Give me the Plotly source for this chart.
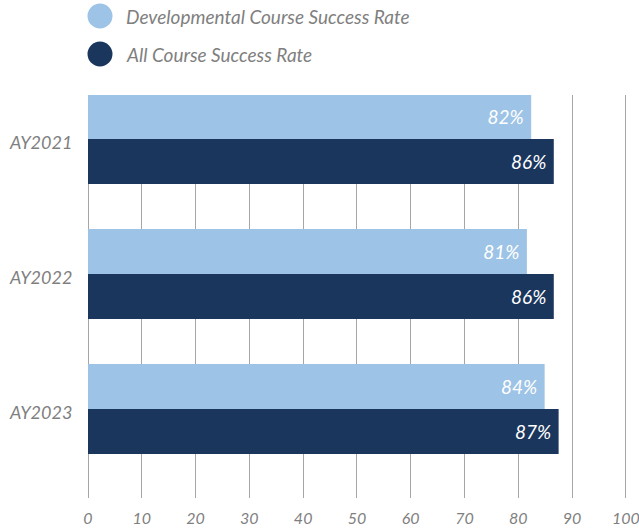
import plotly.graph_objects as go

years = ["AY2021", "AY2022", "AY2023"]
dev_rate = [82.4, 81.6, 84.9]
all_rate = [86.6, 86.6, 87.5]
dev_labels = ["82%", "81%", "84%"]
all_labels = ["86%", "86%", "87%"]
x_ticks = [0, 10, 20, 30, 40, 50, 60, 70, 80, 90, 100]
series_names = ["Developmental Course Success Rate", "All Course Success Rate"]

LIGHT = "#9dc3e6"
DARK = "#1b365d"
GRAY = "#7f7f7f"
FONT = "Lato"
NBSP = "\u00a0"

fig = go.Figure()
fig.add_trace(go.Bar(
    y=years, x=dev_rate, orientation="h", name=series_names[0],
    marker=dict(color=LIGHT, line=dict(width=0)),
    text=[t + NBSP for t in dev_labels], textposition="inside", insidetextanchor="end",
    textfont=dict(color="white", size=19, family=FONT, style="italic"),
    showlegend=False, hoverinfo="x+y",
))
fig.add_trace(go.Bar(
    y=years, x=all_rate, orientation="h", name=series_names[1],
    marker=dict(color=DARK, line=dict(width=0)),
    text=[t + NBSP for t in all_labels], textposition="inside", insidetextanchor="end",
    textfont=dict(color="white", size=19, family=FONT, style="italic"),
    showlegend=False, hoverinfo="x+y",
))

L, R, T, B = 88, 11, 95, 31
W, H = 639, 529
pw = W - L - R
ph = H - T - B

def px_x(x):
    return (x - L) / pw

def px_y(y):
    return (H - B - y) / ph

shapes = []
annotations = []
for i, (name, col) in enumerate(zip(series_names, [LIGHT, DARK])):
    cy = [16, 54][i]
    shapes.append(dict(
        type="circle", xref="paper", yref="paper",
        xsizemode="pixel", ysizemode="pixel",
        xanchor=px_x(100), yanchor=px_y(cy),
        x0=-12.5, x1=12.5, y0=-12.5, y1=12.5,
        fillcolor=col, line=dict(width=0),
    ))
    annotations.append(dict(
        text=name, xref="paper", yref="paper",
        x=px_x(124), y=px_y(cy), xanchor="left", yanchor="middle",
        showarrow=False,
        font=dict(size=19, color=GRAY, family=FONT, style="italic"),
    ))

fig.update_layout(
    width=W, height=H,
    margin=dict(l=L, r=R, t=T, b=B, autoexpand=False),
    paper_bgcolor="white", plot_bgcolor="white",
    barmode="group", bargap=1/3, bargroupgap=0,
    showlegend=False,
    shapes=shapes, annotations=annotations,
    uniformtext=dict(mode=False),
)
fig.update_xaxes(
    range=[0, 100.4], tickvals=x_ticks, ticktext=[str(v) for v in x_ticks],
    showgrid=True, gridcolor="#a6a6a6", gridwidth=1,
    zeroline=True, zerolinecolor="#a6a6a6", zerolinewidth=1,
    showline=False, ticks="outside", ticklen=6, tickcolor="rgba(0,0,0,0)",
    ticklabeloverflow="allow",
    tickfont=dict(size=16, color=GRAY, family=FONT, style="italic"),
    automargin=False, fixedrange=True,
)
fig.update_yaxes(
    type="category", categoryorder="array", categoryarray=years,
    range=[2.659, -0.326],
    showgrid=False, zeroline=False, showline=False,
    ticks="outside", ticklen=11, tickcolor="rgba(0,0,0,0)",
    ticklabelshift=-4,
    tickfont=dict(size=18, color=GRAY, family=FONT, style="italic"),
    automargin=False, fixedrange=True,
)

fig.write_html(
    "out.html",
    config={"displayModeBar": False},
    post_script="document.body.style.margin='0';document.body.style.overflow='hidden';",
)
